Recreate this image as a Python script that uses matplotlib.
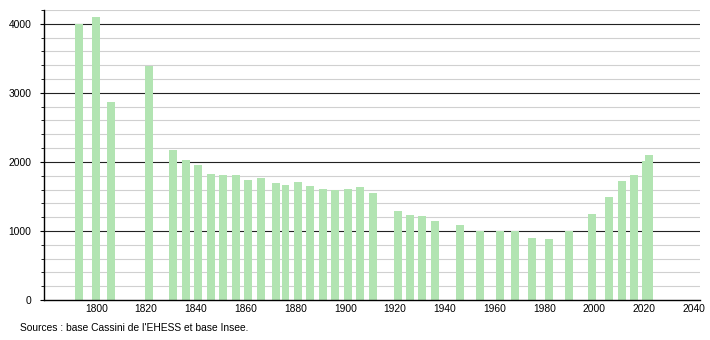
import numpy as np
import matplotlib
matplotlib.use('Agg')
import matplotlib.pyplot as plt
from matplotlib.ticker import MultipleLocator

plt.rcParams['font.family'] = ['Liberation Sans', 'DejaVu Sans']

years = [1793, 1800, 1806, 1821, 1831, 1836, 1841, 1846, 1851, 1856,
         1861, 1866, 1872, 1876, 1881, 1886, 1891, 1896, 1901, 1906,
         1911, 1921, 1926, 1931, 1936, 1946, 1954, 1962, 1968, 1975,
         1982, 1990, 1999, 2006, 2011, 2016, 2021, 2022]
population = [4000, 4095, 2872, 3385, 2177, 2032, 1955, 1828, 1812, 1812,
              1738, 1770, 1694, 1668, 1710, 1656, 1613, 1590, 1608, 1636,
              1553, 1290, 1232, 1217, 1148, 1087, 1000, 1000, 1000, 903,
              884, 1000, 1250, 1490, 1729, 1812, 2019, 2101]

x_ticks = list(range(1800, 2041, 20))
y_ticks = [0, 1000, 2000, 3000, 4000]
source = "Sources : base Cassini de l'EHESS et base Insee."

fig = plt.figure(figsize=(7.1, 3.4), dpi=100)
ax = fig.add_axes([44 / 710, 40 / 340, 656 / 710, 290 / 340])

# grille : gris tous les 200, noir tous les 1000
for v in range(200, 4201, 200):
    if v % 1000 == 0:
        ax.axhline(v, color='#222222', lw=0.8, zorder=1)
    else:
        ax.axhline(v, color='#d0d0d0', lw=0.8, zorder=1)

ax.bar(years, population, width=3.2, color='#b2e4b2', zorder=2)

ax.set_xlim(1779, 2042.5)
ax.set_ylim(0, 4200)
ax.set_xticks(x_ticks)
ax.set_yticks(y_ticks)
ax.yaxis.set_minor_locator(MultipleLocator(200))
ax.tick_params(axis='x', length=0, labelsize=7.4, pad=3)
ax.tick_params(axis='y', which='major', length=3, labelsize=7.4, pad=6)
ax.tick_params(axis='y', which='minor', length=2.5)

for s in ['top', 'right']:
    ax.spines[s].set_visible(False)
ax.spines['left'].set_linewidth(1)
ax.spines['bottom'].set_linewidth(1)

fig.text(20 / 710, 1 - 328 / 340, source, fontsize=7.4, va='center', ha='left')

plt.savefig('out.png', dpi=100)
